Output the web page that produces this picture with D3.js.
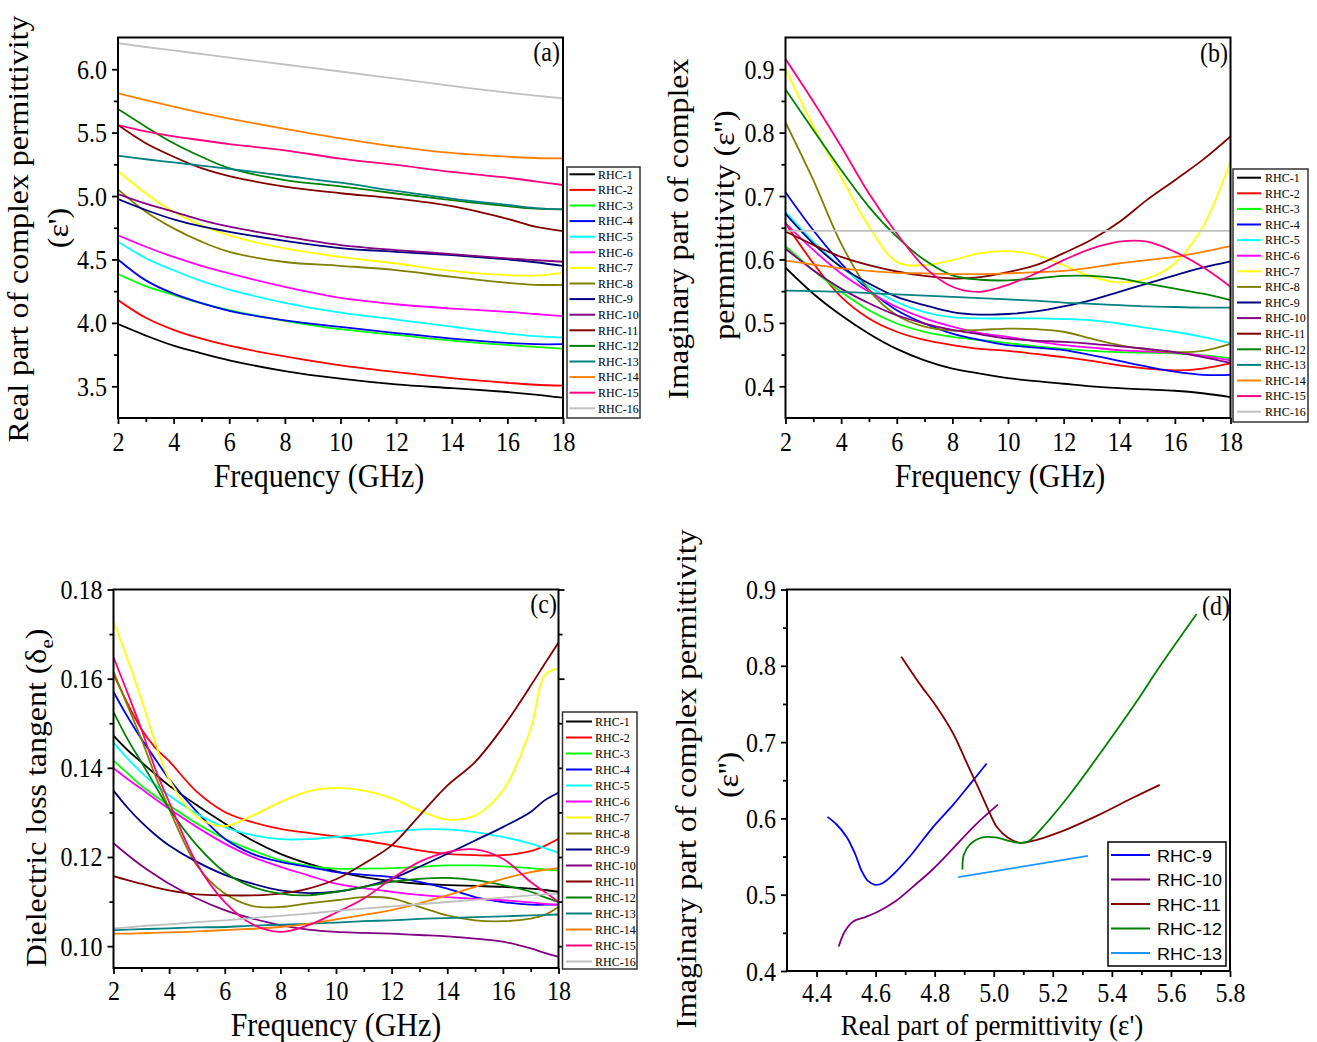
<!DOCTYPE html>
<html>
<head>
<meta charset="utf-8">
<script src="https://cdn.jsdelivr.net/npm/d3@7"></script>
<style>
  body { margin: 0; background: #fff; }
  svg { display: block; }
</style>
</head>
<body>
<script>
// Nombres de las muestras y sus colores (estilo Origin).
const series = ["RHC-1", "RHC-2", "RHC-3", "RHC-4", "RHC-5", "RHC-6", "RHC-7", "RHC-8",
  "RHC-9", "RHC-10", "RHC-11", "RHC-12", "RHC-13", "RHC-14", "RHC-15", "RHC-16"];
const colores = ["#000000", "#FF0000", "#00FF00", "#0000FF", "#00FFFF", "#FF00FF", "#FFFF00", "#808000",
  "#000080", "#800080", "#800000", "#008000", "#008080", "#FF8000", "#FF0080", "#C0C0C0"];

// (a) parte real de la permitividad
const frecuenciaA = [2, 3, 4, 5, 6, 8, 10, 12, 14, 16, 17, 18];
const permitividadReal = [
  [3.99, 3.90, 3.82, 3.76, 3.705, 3.62, 3.56, 3.515, 3.485, 3.455, 3.435, 3.41],
  [4.18, 4.04, 3.945, 3.875, 3.82, 3.735, 3.665, 3.612, 3.565, 3.528, 3.512, 3.505],
  [4.385, 4.29, 4.22, 4.155, 4.10, 4.016, 3.95, 3.905, 3.86, 3.826, 3.81, 3.797],
  [4.50, 4.335, 4.23, 4.155, 4.095, 4.02, 3.968, 3.92, 3.876, 3.842, 3.832, 3.832],
  [4.64, 4.51, 4.415, 4.33, 4.263, 4.158, 4.08, 4.026, 3.97, 3.916, 3.895, 3.884],
  [4.69, 4.60, 4.52, 4.45, 4.39, 4.284, 4.197, 4.147, 4.113, 4.087, 4.07, 4.053],
  [5.197, 5.02, 4.876, 4.77, 4.69, 4.587, 4.52, 4.468, 4.41, 4.376, 4.373, 4.395],
  [5.053, 4.876, 4.745, 4.64, 4.56, 4.48, 4.45, 4.416, 4.363, 4.316, 4.30, 4.30],
  [4.976, 4.89, 4.816, 4.76, 4.718, 4.647, 4.59, 4.56, 4.534, 4.50, 4.478, 4.45],
  [5.016, 4.94, 4.876, 4.81, 4.758, 4.68, 4.613, 4.574, 4.542, 4.508, 4.495, 4.482],
  [5.56, 5.416, 5.31, 5.22, 5.158, 5.074, 5.022, 4.98, 4.92, 4.82, 4.758, 4.724],
  [5.687, 5.547, 5.416, 5.31, 5.22, 5.126, 5.076, 5.02, 4.968, 4.92, 4.90, 4.895],
  [5.318, 5.29, 5.265, 5.24, 5.215, 5.16, 5.105, 5.04, 4.98, 4.93, 4.905, 4.895],
  [5.81, 5.757, 5.705, 5.655, 5.61, 5.53, 5.455, 5.39, 5.34, 5.31, 5.30, 5.297],
  [5.56, 5.51, 5.47, 5.44, 5.41, 5.36, 5.295, 5.245, 5.19, 5.145, 5.115, 5.087],
  [6.205, 6.175, 6.148, 6.12, 6.092, 6.037, 5.982, 5.925, 5.868, 5.815, 5.792, 5.77],
];

// (b) parte imaginaria
const frecuenciaB = [2, 3, 4, 5, 6, 7, 8, 9, 10, 11, 12, 13, 14, 15, 16, 17, 18];
const permitividadImag = [
  [0.587, 0.546, 0.512, 0.483, 0.459, 0.441, 0.428, 0.42, 0.413, 0.408, 0.404, 0.4, 0.397, 0.395, 0.393, 0.389, 0.383],
  [0.657, 0.594, 0.541, 0.507, 0.486, 0.473, 0.465, 0.459, 0.456, 0.451, 0.446, 0.44, 0.433, 0.428, 0.425, 0.428, 0.436],
  [0.621, 0.583, 0.549, 0.52, 0.499, 0.486, 0.478, 0.473, 0.468, 0.463, 0.459, 0.456, 0.454, 0.453, 0.452, 0.449, 0.444],
  [0.706, 0.646, 0.594, 0.552, 0.52, 0.499, 0.483, 0.473, 0.465, 0.461, 0.457, 0.449, 0.44, 0.431, 0.423, 0.418, 0.418],
  [0.675, 0.628, 0.588, 0.557, 0.533, 0.517, 0.509, 0.507, 0.507, 0.507, 0.506, 0.504, 0.499, 0.492, 0.486, 0.478, 0.468],
  [0.657, 0.615, 0.578, 0.549, 0.525, 0.507, 0.494, 0.484, 0.478, 0.471, 0.465, 0.461, 0.457, 0.455, 0.453, 0.448, 0.441],
  [0.90, 0.81, 0.73, 0.652, 0.596, 0.591, 0.599, 0.61, 0.613, 0.607, 0.591, 0.573, 0.564, 0.57, 0.594, 0.651, 0.754],
  [0.816, 0.725, 0.625, 0.552, 0.512, 0.494, 0.488, 0.489, 0.491, 0.49, 0.486, 0.475, 0.465, 0.458, 0.454, 0.456, 0.467],
  [0.672, 0.625, 0.588, 0.562, 0.541, 0.528, 0.517, 0.513, 0.514, 0.518, 0.526, 0.536, 0.549, 0.562, 0.575, 0.587, 0.597],
  [0.617, 0.583, 0.554, 0.531, 0.512, 0.499, 0.489, 0.482, 0.475, 0.472, 0.47, 0.467, 0.463, 0.459, 0.454, 0.446, 0.437],
  [0.644, 0.623, 0.604, 0.591, 0.581, 0.574, 0.57, 0.572, 0.58, 0.591, 0.61, 0.631, 0.659, 0.694, 0.725, 0.757, 0.794],
  [0.868, 0.804, 0.741, 0.683, 0.636, 0.599, 0.575, 0.568, 0.567, 0.57, 0.574, 0.574, 0.57, 0.562, 0.554, 0.546, 0.536],
  [0.551, 0.55, 0.549, 0.547, 0.545, 0.543, 0.541, 0.539, 0.537, 0.535, 0.532, 0.53, 0.528, 0.526, 0.525, 0.524, 0.524],
  [0.598, 0.592, 0.586, 0.582, 0.579, 0.578, 0.577, 0.577, 0.578, 0.58, 0.582, 0.587, 0.594, 0.599, 0.604, 0.612, 0.621],
  [0.916, 0.849, 0.778, 0.704, 0.641, 0.588, 0.557, 0.549, 0.56, 0.578, 0.599, 0.617, 0.628, 0.628, 0.612, 0.588, 0.557],
  [0.645, 0.645, 0.645, 0.645, 0.645, 0.645, 0.645, 0.645, 0.645, 0.645, 0.645, 0.645, 0.645, 0.645, 0.645, 0.645, 0.645],
];

// (c) tangente de pérdidas
const frecuenciaC = [2, 2.5, 3, 3.5, 4, 5, 6, 7, 8, 9, 10, 11, 12, 13, 14, 15, 16, 17, 17.5, 18];
const tangentePerdidas = [
  [0.1472, 0.144, 0.1413, 0.1386, 0.136, 0.1316, 0.1275, 0.1237, 0.1207, 0.1185, 0.1168, 0.1155, 0.1146, 0.114, 0.1137, 0.1135, 0.1133, 0.1129, 0.1126, 0.1122],
  [0.161, 0.1545, 0.1487, 0.1445, 0.1415, 0.1346, 0.1301, 0.1278, 0.1263, 0.1254, 0.1246, 0.1237, 0.1226, 0.1215, 0.1207, 0.1204, 0.1204, 0.1213, 0.1225, 0.1241],
  [0.1416, 0.1388, 0.136, 0.1337, 0.1316, 0.1275, 0.1241, 0.1215, 0.1193, 0.118, 0.1174, 0.1174, 0.1175, 0.1178, 0.1181, 0.1181, 0.1179, 0.1175, 0.1172, 0.117],
  [0.157, 0.1515, 0.1465, 0.142, 0.1375, 0.1301, 0.1241, 0.1207, 0.1189, 0.1178, 0.1166, 0.116, 0.1155, 0.1144, 0.1129, 0.111, 0.1099, 0.1093, 0.1093, 0.1093],
  [0.1457, 0.1421, 0.139, 0.1362, 0.1338, 0.1297, 0.1267, 0.1249, 0.124, 0.124, 0.1245, 0.125, 0.1257, 0.1262, 0.1262, 0.1256, 0.1245, 0.123, 0.122, 0.121],
  [0.1399, 0.1375, 0.1353, 0.133, 0.1308, 0.1267, 0.123, 0.12, 0.1178, 0.1159, 0.114, 0.113, 0.1122, 0.1115, 0.111, 0.1106, 0.1103, 0.1098, 0.1095, 0.1093],
  [0.1728, 0.1644, 0.1554, 0.1457, 0.1375, 0.129, 0.1269, 0.1293, 0.1323, 0.1347, 0.1355, 0.1349, 0.1332, 0.1304, 0.1284, 0.1293, 0.1349, 0.1487, 0.1607, 0.1623],
  [0.1616, 0.154, 0.1465, 0.1383, 0.1308, 0.1181, 0.1118, 0.109, 0.1088, 0.1096, 0.1103, 0.111, 0.1107, 0.1088, 0.1069, 0.1058, 0.1056, 0.1062, 0.107, 0.1088],
  [0.1349, 0.1311, 0.1278, 0.125, 0.1226, 0.1189, 0.116, 0.114, 0.1125, 0.1119, 0.1122, 0.1133, 0.1151, 0.1178, 0.1207, 0.1237, 0.1267, 0.1301, 0.1327, 0.1344],
  [0.1231, 0.1205, 0.1181, 0.116, 0.114, 0.1107, 0.1081, 0.1062, 0.1047, 0.1037, 0.1032, 0.103, 0.1028, 0.1025, 0.1022, 0.1017, 0.101, 0.0995, 0.0985, 0.0976],
  [0.1157, 0.1148, 0.114, 0.1132, 0.1125, 0.1116, 0.1114, 0.1114, 0.1118, 0.1129, 0.115, 0.1185, 0.1226, 0.1293, 0.136, 0.1413, 0.1491, 0.1584, 0.1633, 0.1681],
  [0.1525, 0.1465, 0.1413, 0.136, 0.1308, 0.1226, 0.1166, 0.1133, 0.1118, 0.1114, 0.1122, 0.1133, 0.1144, 0.1151, 0.1153, 0.1148, 0.1137, 0.1122, 0.111, 0.1099],
  [0.1036, 0.1037, 0.1038, 0.1039, 0.104, 0.1042, 0.1043, 0.1046, 0.1048, 0.105, 0.1053, 0.1056, 0.1058, 0.1061, 0.1063, 0.1065, 0.1067, 0.1069, 0.107, 0.1071],
  [0.1028, 0.1028, 0.1029, 0.103, 0.1031, 0.1033, 0.1036, 0.1039, 0.1043, 0.105, 0.106, 0.107, 0.1081, 0.1096, 0.1114, 0.1133, 0.1151, 0.1166, 0.1171, 0.1175],
  [0.1648, 0.1569, 0.1487, 0.1398, 0.1323, 0.1185, 0.1099, 0.1049, 0.1032, 0.1047, 0.1075, 0.1107, 0.1151, 0.1189, 0.1211, 0.1217, 0.1196, 0.1144, 0.1122, 0.1099],
  [0.104, 0.1042, 0.1045, 0.1047, 0.1049, 0.1054, 0.1058, 0.1063, 0.1068, 0.1073, 0.1079, 0.1084, 0.1089, 0.1094, 0.1099, 0.1104, 0.1109, 0.1114, 0.1116, 0.1118],
];

// (d) diagrama e' vs e'' para cinco muestras
const seriesD = ["RHC-9", "RHC-10", "RHC-11", "RHC-12", "RHC-13"];
const coloresD = ["#0000FF", "#800080", "#800000", "#008000", "#1E96FF"];
const puntosRHC9 = [[4.437, 0.602], [4.468, 0.592], [4.503, 0.575], [4.531, 0.553], [4.553, 0.531], [4.574, 0.518],
  [4.598, 0.513], [4.623, 0.515], [4.666, 0.529], [4.722, 0.553], [4.793, 0.588], [4.863, 0.618], [4.92, 0.645], [4.976, 0.672]];
const puntosRHC10 = [[4.475, 0.432], [4.496, 0.452], [4.524, 0.465], [4.567, 0.471], [4.609, 0.478], [4.666, 0.491],
  [4.722, 0.509], [4.793, 0.533], [4.863, 0.561], [4.934, 0.59], [5.014, 0.618]];
const puntosRHC11 = [[4.687, 0.812], [4.75, 0.776], [4.807, 0.746], [4.863, 0.711], [4.906, 0.675], [4.948, 0.64],
  [4.983, 0.61], [5.012, 0.588], [5.047, 0.575], [5.089, 0.568], [5.146, 0.572], [5.23, 0.583], [5.358, 0.605],
  [5.471, 0.627], [5.562, 0.644]];
const puntosRHC12 = [[4.894, 0.533], [4.899, 0.553], [4.92, 0.566], [4.962, 0.575], [5.005, 0.575], [5.047, 0.571],
  [5.089, 0.568], [5.118, 0.57], [5.174, 0.592], [5.259, 0.632], [5.358, 0.684], [5.471, 0.746], [5.569, 0.803], [5.687, 0.868]];
const puntosRHC13 = [[4.88, 0.523], [5.319, 0.551]];

// Marcas de los ejes
const ticksFrecuencia = [2, 4, 6, 8, 10, 12, 14, 16, 18];
const menoresFrecuencia = [3, 5, 7, 9, 11, 13, 15, 17];
const ticksA = [3.5, 4.0, 4.5, 5.0, 5.5, 6.0];
const menoresA = [3.75, 4.25, 4.75, 5.25, 5.75];
const ticksB = [0.4, 0.5, 0.6, 0.7, 0.8, 0.9];
const menoresB = [0.45, 0.55, 0.65, 0.75, 0.85];
const ticksC = [0.10, 0.12, 0.14, 0.16, 0.18];
const menoresC = [0.11, 0.13, 0.15, 0.17];
const ticksDx = [4.4, 4.6, 4.8, 5.0, 5.2, 5.4, 5.6, 5.8];
const menoresDx = [4.5, 4.7, 4.9, 5.1, 5.3, 5.5, 5.7];
const ticksDy = [0.4, 0.5, 0.6, 0.7, 0.8, 0.9];
const menoresDy = [0.45, 0.55, 0.65, 0.75, 0.85];

////////////////////////////////////////////
// Constantes de dibujo
const WIDTH = 1317;
const HEIGHT = 1042;
const SERIF = "'Liberation Serif', 'Times New Roman', serif";
const SANS = "'Liberation Sans', Arial, sans-serif";
const ESTIRAR = 1.1; // el texto del original está algo estirado en vertical

const svg = d3.select("body").append("svg")
  .attr("width", WIDTH)
  .attr("height", HEIGHT);
svg.append("rect").attr("width", WIDTH).attr("height", HEIGHT).attr("fill", "#fff");

// Escribe un texto (opcionalmente girado) con el estiramiento vertical.
function texto(g, x, y, contenido, size, op = {}) {
  const k = op.estirar || ESTIRAR;
  const t = g.append("text")
    .attr("transform", op.rotar
      ? `translate(${x},${y}) rotate(-90) scale(${k},1)`
      : `translate(${x},${y}) scale(1,${k})`)
    .attr("font-family", op.familia || SERIF)
    .attr("font-size", size)
    .attr("text-anchor", op.ancla || "middle")
    .attr("fill", "#000");
  if (contenido !== null) t.text(contenido);
  return t;
}

// Ejes con marcas hacia afuera, mayores y menores.
function ejes(g, escalaX, escalaY, p, cfg) {
  const bajada = cfg.bajada || 33;
  const ejeX = g.append("g").attr("transform", `translate(0,${p.inf})`)
    .call(d3.axisBottom(escalaX).tickValues(cfg.ticksX).tickSize(6).tickSizeOuter(0).tickFormat(cfg.formatoX));
  ejeX.selectAll("text")
    .attr("y", null).attr("dy", null)
    .attr("transform", `translate(0,${bajada}) scale(1,${ESTIRAR})`);

  const menorX = g.append("g").attr("transform", `translate(0,${p.inf})`)
    .call(d3.axisBottom(escalaX).tickValues(cfg.menoresX).tickSize(4).tickSizeOuter(0).tickFormat(""));

  const ejeY = g.append("g").attr("transform", `translate(${p.izq},0)`)
    .call(d3.axisLeft(escalaY).tickValues(cfg.ticksY).tickSize(6).tickSizeOuter(0).tickFormat(cfg.formatoY));
  ejeY.selectAll("text")
    .attr("x", null).attr("dy", null)
    .attr("transform", `translate(-11,9) scale(1,${ESTIRAR})`);

  const menorY = g.append("g").attr("transform", `translate(${p.izq},0)`)
    .call(d3.axisLeft(escalaY).tickValues(cfg.menoresY).tickSize(4).tickSizeOuter(0).tickFormat(""));

  const grupos = [ejeX, menorX, ejeY, menorY];
  if (cfg.derecha) {
    grupos.push(g.append("g").attr("transform", `translate(${p.der},0)`)
      .call(d3.axisRight(escalaY).tickValues(cfg.ticksY).tickSize(6).tickSizeOuter(0).tickFormat("")));
    grupos.push(g.append("g").attr("transform", `translate(${p.der},0)`)
      .call(d3.axisRight(escalaY).tickValues(cfg.menoresY).tickSize(4).tickSizeOuter(0).tickFormat("")));
  }
  grupos.forEach(e => {
    e.select(".domain").remove();
    e.selectAll("line").attr("stroke", "#000").attr("stroke-width", 1.8);
    e.selectAll("text").attr("font-family", SERIF).attr("font-size", 24).attr("fill", "#000");
  });
}

// Marco negro completo del área de trazado.
function marco(g, p) {
  g.append("rect")
    .attr("x", p.izq).attr("y", p.sup)
    .attr("width", p.der - p.izq).attr("height", p.inf - p.sup)
    .attr("fill", "none").attr("stroke", "#000").attr("stroke-width", 2);
}

function recorte(id, p) {
  svg.append("clipPath").attr("id", id)
    .append("rect")
    .attr("x", p.izq).attr("y", p.sup)
    .attr("width", p.der - p.izq).attr("height", p.inf - p.sup);
}

function leyenda(g, L, nombres, cols) {
  g.append("rect")
    .attr("x", L.x).attr("y", L.y).attr("width", L.w).attr("height", L.h)
    .attr("fill", "#fff").attr("stroke", L.borde || "#333").attr("stroke-width", 1.5);
  const filas = g.selectAll(null).data(nombres).join("g")
    .attr("transform", (d, i) => `translate(0,${L.primera + i * L.paso})`);
  filas.append("line")
    .attr("x1", L.lx1).attr("x2", L.lx2)
    .attr("stroke", (d, i) => cols[i]).attr("stroke-width", L.grosor || 2);
  filas.each(function (d) {
    texto(d3.select(this), L.tx, L.dy, d, L.size, { ancla: "start", familia: L.familia, estirar: L.estirar });
  });
}

// Paneles con la frecuencia en el eje X
function panelFrecuencia(p, cfg) {
  const g = svg.append("g");
  const escalaX = d3.scaleLinear().domain([2, 18]).range([p.izq, p.der]);
  const escalaY = d3.scaleLinear().domain(cfg.dominioY).range([p.inf, p.sup]);

  ejes(g, escalaX, escalaY, p, {
    ticksX: ticksFrecuencia, menoresX: menoresFrecuencia, formatoX: d3.format("d"),
    ticksY: cfg.ticksY, menoresY: cfg.menoresY, formatoY: cfg.formatoY, derecha: cfg.derecha,
    bajada: cfg.bajada,
  });

  recorte(cfg.id, p);
  const linea = d3.line()
    .x((d, i) => escalaX(cfg.frecuencias[i]))
    .y(d => escalaY(d))
    .curve(d3.curveCatmullRom.alpha(0.5));

  g.append("g").attr("clip-path", `url(#${cfg.id})`)
    .selectAll("path")
    .data(cfg.valores)
    .join("path")
    .attr("d", linea)
    .attr("fill", "none")
    .attr("stroke", (d, i) => colores[i])
    .attr("stroke-width", 1.8);

  marco(g, p);
  leyenda(g, cfg.leyenda, series, colores);
  texto(g, cfg.etiqueta.x, cfg.etiqueta.y, cfg.etiqueta.texto, 24, { ancla: "end" });
  return g;
}

// (a)
const gA = panelFrecuencia({ izq: 118, der: 563, sup: 37.5, inf: 418 }, {
  id: "clipA", frecuencias: frecuenciaA, valores: permitividadReal,
  dominioY: [3.25, 6.25], ticksY: ticksA, menoresY: menoresA, formatoY: d3.format(".1f"),
  leyenda: { x: 567, y: 167, w: 73, h: 251, primera: 174.3, paso: 15.6, lx1: 569.5, lx2: 595, tx: 598, dy: 4.2, size: 12 },
  etiqueta: { x: 560, y: 60.5, texto: "(a)" },
});
texto(gA, 319, 487, "Frequency (GHz)", 30);
texto(gA, 28, 229, "Real part of complex permittivity", 29, { rotar: true });
texto(gA, 68, 228, "(ε')", 29, { rotar: true });

// (b)
const gB = panelFrecuencia({ izq: 785.5, der: 1230.5, sup: 37.5, inf: 418 }, {
  id: "clipB", frecuencias: frecuenciaB, valores: permitividadImag,
  dominioY: [0.35, 0.95], ticksY: ticksB, menoresY: menoresB, formatoY: d3.format(".1f"),
  leyenda: { x: 1233, y: 169, w: 75, h: 253, primera: 177.7, paso: 15.6, lx1: 1237, lx2: 1261, tx: 1265, dy: 4.2, size: 12 },
  etiqueta: { x: 1228, y: 62, texto: "(b)" },
});
texto(gB, 1000, 487, "Frequency (GHz)", 30);
texto(gB, 688, 229, "Imaginary part of complex", 29, { rotar: true });
texto(gB, 734, 225, "permmittivity (ε'')", 29, { rotar: true });

// (c)
const gC = panelFrecuencia({ izq: 113.5, der: 558.5, sup: 589.5, inf: 968 }, {
  id: "clipC", frecuencias: frecuenciaC, valores: tangentePerdidas, bajada: 32,
  dominioY: [0.0951, 0.18], ticksY: ticksC, menoresY: menoresC, formatoY: d3.format(".2f"), derecha: true,
  leyenda: { x: 562.5, y: 712, w: 74.5, h: 257, primera: 721.5, paso: 16, lx1: 566, lx2: 592, tx: 595, dy: 4.2, size: 12 },
  etiqueta: { x: 557, y: 613, texto: "(c)" },
});
texto(gC, 336, 1036, "Frequency (GHz)", 30);
const tituloC = texto(gC, 46, 798, null, 29, { rotar: true });
tituloC.append("tspan").text("Dielectric loss tangent (δ");
tituloC.append("tspan").attr("font-size", 19).attr("dy", 7).text("e");
tituloC.append("tspan").attr("dy", -7).text(")");

// (d) e'' frente a e'
const pD = { izq: 787, der: 1230, sup: 589.5, inf: 971 };
const gD = svg.append("g");
const escalaXD = d3.scaleLinear().domain([4.3, 5.8]).range([pD.izq, pD.der]);
const escalaYD = d3.scaleLinear().domain([0.4, 0.9]).range([pD.inf, pD.sup]);
ejes(gD, escalaXD, escalaYD, pD, {
  ticksX: ticksDx, menoresX: menoresDx, formatoX: d3.format(".1f"),
  ticksY: ticksDy, menoresY: menoresDy, formatoY: d3.format(".1f"), bajada: 31,
});
recorte("clipD", pD);
const lineaD = d3.line()
  .x(d => escalaXD(d[0]))
  .y(d => escalaYD(d[1]))
  .curve(d3.curveCatmullRom.alpha(0.5));
gD.append("g").attr("clip-path", "url(#clipD)")
  .selectAll("path")
  .data([puntosRHC9, puntosRHC10, puntosRHC11, puntosRHC12, puntosRHC13])
  .join("path")
  .attr("d", lineaD)
  .attr("fill", "none")
  .attr("stroke", (d, i) => coloresD[i])
  .attr("stroke-width", 1.8);
marco(gD, pD);
leyenda(gD, { x: 1108, y: 842, w: 118, h: 124, primera: 855, paso: 24.5, lx1: 1111, lx2: 1150, tx: 1157, dy: 6.5,
  size: 18, familia: SANS, estirar: 0.95, borde: "#000" }, seriesD, coloresD);
texto(gD, 1230, 615, "(d)", 24, { ancla: "end" });
texto(gD, 992, 1035, "Real part of permittivity (ε')", 27);
texto(gD, 696, 779, "Imaginary part of complex permittivity", 29, { rotar: true });
texto(gD, 738, 775, "(ε'')", 29, { rotar: true });
</script>
</body>
</html>
